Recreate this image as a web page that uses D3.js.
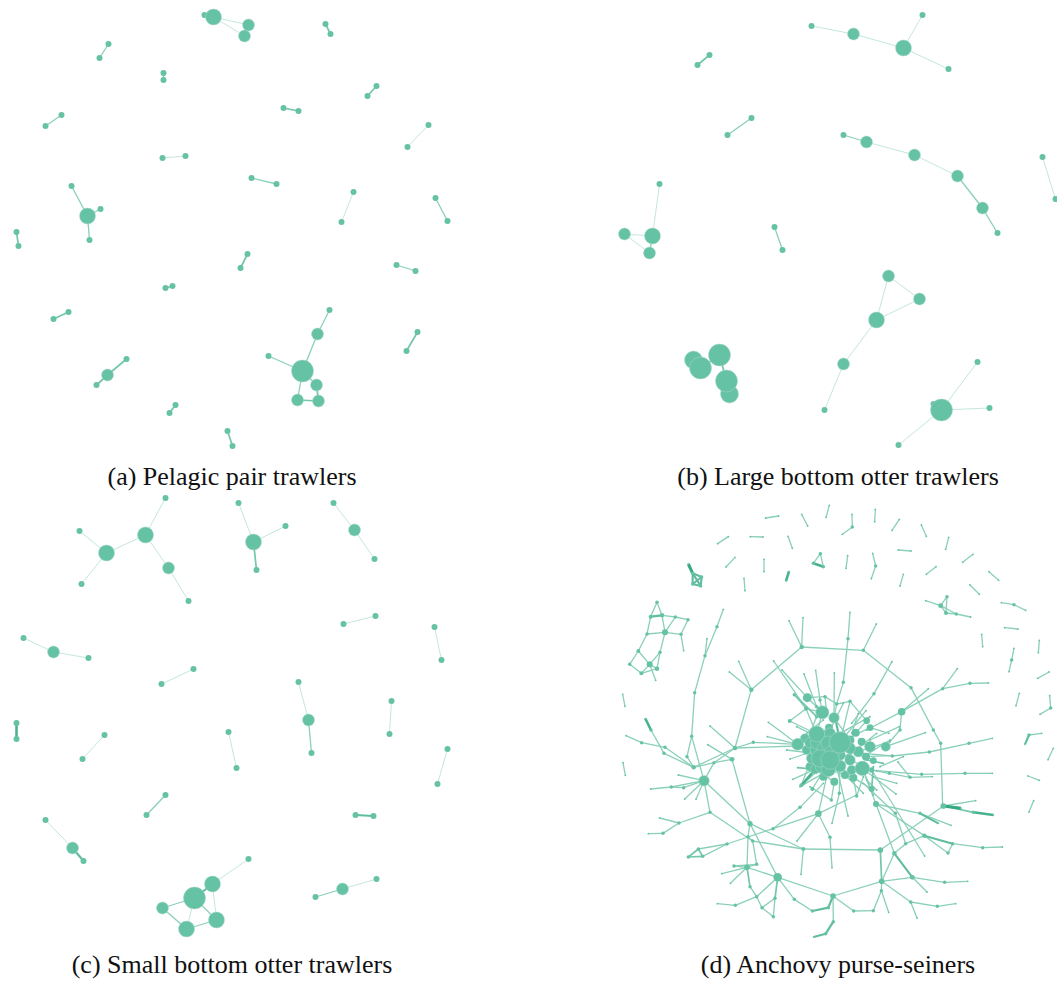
<!DOCTYPE html>
<html lang="en">
  <head>
    <meta charset="utf-8" />
    <title>Fishing fleet networks</title>
    <script src="https://d3js.org/d3.v7.min.js"></script>
    <style>
      body { margin: 0; background: #fff; }
      text { font-family: "Liberation Serif", serif; fill: #111; }
    </style>
  </head>
  <body>
    <div id="content"></div>
    <script>
      // chains are [weight, x, y, x, y, ...], nodes are [x, y, size]
      // a, b, c are read in picture units, d in units of the 3x crops
      const captions = [
        "(a) Pelagic pair trawlers",
        "(b) Large bottom otter trawlers",
        "(c) Small bottom otter trawlers",
        "(d) Anchovy purse-seiners",
      ];

      const chainsA = [
        [1, 204,15, 213,17, 248,25], [1, 213,17, 244,36], [1, 248,25, 244,36],
        [3, 325,24, 330,34], [2, 108,44, 99,58], [2, 163,73, 163,80], [3, 376,86, 367,96],
        [3, 283,108, 298,111], [2, 61,115, 45,126], [1, 428,125, 407,147], [1, 162,158, 185,156],
        [2, 251,178, 276,184], [2, 71,186, 87,216, 100,209], [2, 87,216, 89,240],
        [1, 353,192, 341,222], [2, 435,198, 447,221], [3, 16,232, 18,246], [3, 247,254, 240,268],
        [2, 396,265, 415,271], [3, 165,288, 172,286], [3, 53,319, 68,312],
        [2, 329,310, 317,334, 302,371, 268,356], [2, 302,371, 316,385], [2, 302,371, 297,400],
        [3, 297,400, 318,401, 316,385], [3, 417,332, 406,351], [3, 126,359, 107,375, 96,385],
        [3, 175,405, 169,413], [3, 227,431, 232,446],
      ];
      const nodesA = [
        [213,17,64], [248,25,36], [244,36,36], [87,216,64], [317,334,36], [302,371,121],
        [316,385,36], [297,400,36], [318,401,36], [107,375,36],
      ];

      const chainsB = [
        [1, 811,26, 853,34, 903,48, 948,69], [1, 922,15, 903,48], [3, 709,55, 697,65],
        [2, 751,118, 727,135], [2, 843,135, 866,142], [1, 866,142, 914,155, 957,176],
        [2, 957,176, 982,208, 997,233], [1, 1042,157, 1055,199], [1, 659,184, 652,236, 624,234, 649,253],
        [2, 652,236, 649,253], [2, 774,227, 782,250], [1, 888,276, 876,320, 919,299, 888,276],
        [1, 876,320, 843,364, 824,410], [3, 693,360, 700,368, 719,355, 726,381, 729,394],
        [1, 977,362, 941,410, 989,408], [1, 933,404, 941,410, 898,445],
      ];
      const nodesB = [
        [853,34,36], [903,48,64], [866,142,36], [914,155,36], [957,176,36], [982,208,36],
        [652,236,64], [624,234,36], [649,253,36], [888,276,36], [876,320,64], [919,299,36],
        [843,364,36], [693,360,81], [700,368,121], [719,355,121], [726,381,121], [729,394,81],
        [941,410,121],
      ];

      const chainsC = [
        [1, 165,498, 145,535, 106,553, 79,531], [1, 106,553, 81,584], [1, 145,535, 168,568, 188,601],
        [1, 238,503, 253,542, 285,526], [3, 253,542, 256,570], [1, 333,503, 354,530, 374,559],
        [1, 375,616, 343,624], [1, 23,638, 53,652, 88,658], [1, 434,627, 441,660], [1, 193,669, 161,684],
        [1, 298,682, 308,720], [2, 308,720, 311,753], [1, 391,701, 389,734], [5, 16,723, 16,739],
        [1, 228,732, 236,768], [1, 104,735, 82,759], [1, 447,749, 437,784], [2, 165,795, 146,815],
        [4, 355,815, 373,816], [1, 45,820, 72,848], [4, 72,848, 83,861],
        [1, 248,859, 212,884], [4, 212,884, 194,898], [2, 194,898, 162,908, 186,929, 216,920, 194,898],
        [1, 194,898, 186,929], [1, 212,884, 216,920], [1, 376,879, 342,889], [2, 342,889, 315,897],
      ];
      const nodesC = [
        [145,535,64], [106,553,64], [168,568,36], [253,542,64], [354,530,36], [53,652,36],
        [308,720,36], [72,848,36], [212,884,64], [194,898,121], [162,908,36], [186,929,64],
        [216,920,64], [342,889,36],
      ];

      const chainsD = [
        // loose pairs around the outside
        [2, 467,54, 506,48], [2, 575,43, 593,78], [2, 658,16, 648,52], [2, 726,43, 727,81, 697,103],
        [2, 796,28, 794,65], [2, 868,58, 846,91], [2, 934,75, 949,109], [2, 1016,112, 1007,148],
        [2, 1089,163, 1058,187], [2, 978,200, 949,223], [2, 1137,215, 1166,241], [2, 1080,255, 1108,283],
        [2, 355,110, 323,131], [2, 421,110, 459,111], [2, 534,109, 547,145], [2, 375,172, 348,201],
        [2, 462,178, 462,215], [5, 537,214, 528,243], [2, 631,161, 610,190], [2, 631,161, 640,200],
        [5, 610,190, 640,200], [2, 713,167, 708,205], [2, 788,160, 797,198, 784,236], [2, 865,150, 903,153],
        [2, 880,223, 870,258], [2, 402,235, 405,272], [2, 1174,308, 1212,314, 1247,331], [2, 1184,383, 1224,387],
        [2, 1115,403, 1118,440], [2, 1288,421, 1285,458], [2, 1212,445, 1205,480, 1197,515], [2, 1317,516, 1283,535],
        [2, 1228,580, 1218,617], [2, 1319,587, 1322,624, 1290,643], [2, 38,583, 45,619],
        [2, 1295,700, 1257,705], [4, 1257,705, 1245,733], [2, 1330,745, 1314,779], [2, 1254,828, 1288,841],
        [2, 1271,902, 1257,936], [2, 39,788, 46,826],
        // small dense clusters
        [6, 235,192, 248,220], [4, 248,220, 275,231, 272,258, 248,252, 248,220], [4, 248,220, 272,258], [4, 275,231, 248,252],
        [2, 947,302, 992,317, 1011,290, 1008,339, 992,317], [2, 1008,339, 1039,342, 992,317], [2, 1039,342, 1082,351],
        [2, 141,307, 122,350, 111,402, 85,453, 59,493, 94,520, 119,493, 85,453], [2, 141,307, 156,346],
        [4, 122,350, 156,346], [2, 156,346, 196,351, 234,359, 213,403, 221,452], [2, 156,346, 165,397, 196,351],
        [2, 111,402, 165,397, 213,403], [2, 165,397, 150,457, 119,493, 141,506, 94,520], [2, 150,457, 141,506], [2, 119,493, 137,541],
        // left side
        [2, 340,328, 321,380, 285,467, 254,578, 245,709, 231,770, 251,802], [2, 291,416, 285,467],
        [5, 106,656, 123,690], [2, 123,690, 162,760, 251,802], [2, 48,707, 95,728, 165,742, 251,802],
        [2, 245,709, 282,842, 300,937], [2, 251,802, 375,744, 430,727, 563,733], [2, 375,744, 563,738], [2, 375,744, 300,678],
        [2, 375,744, 424,569, 358,516], [2, 424,569, 386,484], [2, 424,569, 575,441, 537,362], [2, 575,441, 579,353],
        [2, 293,734, 366,778, 312,788, 251,802], [2, 366,778, 420,971], [2, 375,744, 312,788, 282,842],
        [2, 205,825, 282,842, 184,861, 122,867], [2, 184,861, 221,863, 282,842], [2, 224,897, 282,842, 258,898],
        [2, 282,842, 420,971], [2, 149,954, 207,969, 300,937], [2, 207,969, 159,1000, 115,1001], [2, 300,937, 428,1023],
        // top arc and right side
        [2, 575,441, 760,451, 903,563, 970,690, 992,730, 998,918], [2, 760,451, 799,372],
        [2, 720,337, 714,416, 700,547, 680,612, 672,653], [2, 846,485, 792,581, 725,670],
        [2, 955,566, 875,635, 998,566, 1080,550, 1135,549], [2, 1042,506, 998,566], [2, 875,635, 870,690, 827,740],
        [2, 875,635, 770,690], [2, 1147,715, 1077,730, 958,756, 847,768, 760,760], [2, 1147,820, 1065,820, 935,823, 800,812],
        [2, 967,830, 900,832, 838,820, 785,810], [2, 946,698, 827,740], [2, 864,786, 900,832],
        [2, 1000,918, 1097,902], [3, 1000,918, 1090,937], [6, 1000,918, 1053,925], [5, 1090,937, 1150,945],
        [2, 1000,918, 811,1050], [2, 798,912, 930,940, 1023,976], [4, 930,940, 985,970], [2, 798,912, 943,1007],
        [4, 943,1007, 1028,1031], [2, 943,1007, 887,1031, 853,1060], [2, 943,1007, 1014,1059, 1028,1031],
        [2, 1028,1031, 1118,1043, 1177,1041], [2, 798,912, 853,1060], [2, 785,810, 944,1068], [2, 760,850, 856,940, 887,1031],
        // bottom arc
        [2, 811,1050, 580,1047, 428,1023, 414,1010], [2, 580,1047, 420,971], [2, 580,1047, 573,1123],
        [3, 811,1050, 815,1144], [2, 853,1060, 815,1144], [4, 853,1060, 907,1132], [2, 815,1144, 907,1132, 1004,1147, 1073,1144],
        [2, 907,1132, 951,1176], [2, 815,1144, 669,1188, 503,1132, 411,1102], [2, 411,1102, 440,1093, 428,1023],
        [2, 420,971, 503,1132], [2, 420,971, 414,1010, 411,1102], [3, 411,1102, 420,1160], [2, 420,1160, 440,1190, 456,1223, 490,1250, 495,1195],
        [3, 495,1195, 503,1132], [2, 503,1132, 440,1190, 376,1216, 322,1211], [2, 456,1223, 495,1195], [2, 335,1121, 411,1102, 361,1150],
        [2, 411,1102, 372,1098, 440,1093], [4, 669,1188, 655,1223, 607,1233], [2, 607,1233, 553,1198, 503,1132],
        [2, 669,1188, 670,1265], [4, 670,1265, 647,1301, 611,1311], [2, 669,1188, 731,1233, 790,1232, 814,1172, 815,1144],
        [2, 814,1172, 836,1237], [2, 815,1144, 902,1206, 982,1219, 1037,1211], [2, 902,1206, 921,1254],
        [2, 561,1023, 625,941, 660,1012, 666,1103], [2, 351,1032, 489,986, 625,941, 740,885], [2, 489,986, 570,922, 640,850],
        [3, 265,1047, 235,1071, 278,1069], [3, 278,1069, 265,1047], [2, 265,1047, 351,1032, 278,1069],
        // spokes into the central clump
        [2, 491,483, 588,626, 637,637], [2, 516,510, 592,593, 637,637], [2, 582,522, 620,620, 637,637], [2, 617,511, 630,600, 637,637],
        [2, 673,519, 672,653], [2, 553,584, 588,626], [3, 553,584, 620,650], [2, 592,593, 645,590, 680,612],
        [2, 680,612, 720,604, 770,662], [2, 720,604, 690,727], [2, 768,632, 690,727], [2, 539,663, 588,626, 620,702],
        [2, 539,663, 620,702], [2, 475,667, 563,733], [2, 472,710, 563,733], [2, 540,777, 620,750], [2, 548,838, 615,808],
        [3, 563,803, 615,808], [5, 574,856, 610,815], [2, 574,856, 660,780], [2, 607,867, 660,780], [2, 664,900, 673,845],
        [2, 714,948, 680,800], [2, 666,970, 688,880, 690,798], [2, 740,888, 730,833, 690,798], [2, 858,882, 757,805],
        [2, 790,885, 757,805], [3, 785,867, 790,800], [2, 798,912, 757,805], [2, 785,867, 730,833], [2, 625,941, 655,808],
        [2, 840,725, 745,755], [2, 845,767, 757,770], [2, 780,683, 837,700], [4, 725,760, 705,770], [4, 678,665, 685,700],
        [2, 770,662, 710,730], [2, 780,683, 690,727], [2, 657,683, 690,727], [2, 637,637, 620,702], [2, 672,653, 745,755],
        [2, 790,782, 745,755], [2, 785,810, 720,780], [2, 615,808, 673,845], [2, 605,775, 574,856], [2, 655,808, 730,833],
        [2, 868,680, 780,720], [2, 840,720, 760,770], [2, 780,650, 690,700], [2, 645,590, 650,640], [2, 760,880, 700,820],
        [2, 740,888, 760,830], [2, 664,900, 600,860], [2, 790,830, 860,850], [2, 810,800, 880,770], [2, 770,840, 800,870],
        [2, 560,680, 640,720], [2, 530,750, 610,760], [2, 570,860, 640,820], [2, 590,700, 640,660], [2, 700,610, 660,690],
        [2, 620,650, 600,700], [2, 745,640, 725,700], [2, 800,700, 750,740], [3, 820,790, 770,780],
      ];
      const nodesD = [
        [690,727,114], [637,637,44], [672,653,28], [620,702,64], [563,733,36], [655,730,54], [620,750,40], [660,780,87],
        [630,775,75], [655,808,54], [690,798,36], [615,808,22], [720,780,28], [757,805,54], [745,755,28], [768,770,16],
        [827,740,22], [737,698,16], [755,725,16], [657,683,16], [780,683,11], [770,662,11], [673,845,16], [730,833,16],
        [785,867,9], [798,912,9], [790,782,11], [785,810,7], [585,715,22], [605,775,28], [645,705,28], [592,593,20],
        [875,635,14], [607,867,4], [574,856,4], [688,880,3], [625,941,11], [539,663,4], [588,626,4],
        [600,728,28], [620,728,40], [665,760,60], [640,745,40], [690,765,30], [720,745,30], [635,800,40], [600,800,20],
        [720,720,20], [780,740,30], [660,700,30], [705,825,16], [640,830,16], [590,750,22], [725,810,22],
        [282,842,28], [420,971,7], [375,744,5], [366,778,6], [251,802,5], [424,569,5], [575,441,5], [760,451,3],
        [1000,918,8], [943,1007,5], [930,940,3], [811,1050,8], [853,1060,5], [907,1132,6], [815,1144,8], [669,1188,8],
        [503,1132,18], [411,1102,8], [580,1047,4], [165,397,9], [119,493,9], [992,317,6], [156,346,5], [141,506,5],
        [94,520,4], [111,402,3], [122,350,4], [196,351,3], [213,403,3], [85,453,4], [150,457,3], [1008,339,4], [1039,342,3],
        [792,581,3], [998,566,3], [285,467,3], [300,937,3], [207,969,3], [428,1023,3], [902,1206,3], [456,1223,3],
      ];

      const width = 1057;
      const height = 982;
      const green = "#66c2a5";

      const svg = d3.select("#content").append("svg")
        .attr("width", width).attr("height", height);

      const pageX = d3.scaleLinear().domain([0, 1057]).range([0.5, 1057.5]);
      const pageY = d3.scaleLinear().domain([0, 982]).range([0, 982]);
      const cropX = d3.scaleLinear().domain([0, 1341]).range([610, 1057]);
      const cropY = d3.scaleLinear().domain([0, 1350]).range([500, 950]);

      const radius = d3.scaleSqrt().domain([0, 400]).range([0, 20]);
      const edgeWidth = d3.scaleLinear().domain([1, 2, 6]).range([0.8, 1.3, 3]);
      const edgeColor = d3.scaleLinear().domain([1, 2, 6]).range(["#b4e1d2", "#8ad0b9", "#35a884"]);

      function drawPanel(chains, nodes, x, y, leafSize, midSize) {
        const g = svg.append("g");
        const edges = [];
        const degree = new Map();
        const spots = new Map();
        chains.forEach((c) => {
          for (let i = 1; i + 3 < c.length; i += 2) {
            edges.push({ w: c[0], x1: c[i], y1: c[i + 1], x2: c[i + 2], y2: c[i + 3] });
            [[c[i], c[i + 1]], [c[i + 2], c[i + 3]]].forEach((p) => {
              const k = p.join();
              degree.set(k, (degree.get(k) || 0) + 1);
              spots.set(k, p);
            });
          }
        });
        const sized = new Map(nodes.map((n) => [n[0] + "," + n[1], n[2]]));
        const dots = Array.from(spots, ([k, p]) => ({
          x: p[0], y: p[1],
          size: sized.has(k) ? sized.get(k) : degree.get(k) > 1 ? midSize : leafSize,
        }));
        nodes.forEach((n) => {
          if (!spots.has(n[0] + "," + n[1])) dots.push({ x: n[0], y: n[1], size: n[2] });
        });
        dots.sort((a, b) => a.size - b.size);

        g.selectAll("line").data(edges.sort((a, b) => a.w - b.w)).join("line")
          .attr("x1", (d) => x(d.x1)).attr("y1", (d) => y(d.y1))
          .attr("x2", (d) => x(d.x2)).attr("y2", (d) => y(d.y2))
          .attr("stroke", (d) => edgeColor(d.w))
          .attr("stroke-width", (d) => edgeWidth(d.w));

        g.selectAll("circle").data(dots).join("circle")
          .attr("cx", (d) => x(d.x)).attr("cy", (d) => y(d.y))
          .attr("r", (d) => radius(d.size))
          .attr("fill", green)
          .attr("stroke", (d) => (d.size > 20 ? "#a9d8c8" : "none"))
          .attr("stroke-width", 0.5);
      }

      drawPanel(chainsA, nodesA, pageX, pageY, 9, 9);
      drawPanel(chainsB, nodesB, pageX, pageY, 9, 9);
      drawPanel(chainsC, nodesC, pageX, pageY, 9, 9);
      drawPanel(chainsD, nodesD, cropX, cropY, 0.8, 3);

      const captionX = d3.scalePoint().domain([0, 1]).range([232, 838]);
      const captionY = d3.scalePoint().domain([0, 1]).range([485, 973]);
      svg.selectAll(".caption").data(captions).join("text")
        .attr("class", "caption")
        .attr("x", (d, i) => captionX(i % 2))
        .attr("y", (d, i) => captionY(i >> 1))
        .attr("text-anchor", "middle")
        .style("font-size", "26px")
        .text((d) => d);
    </script>
  </body>
</html>
